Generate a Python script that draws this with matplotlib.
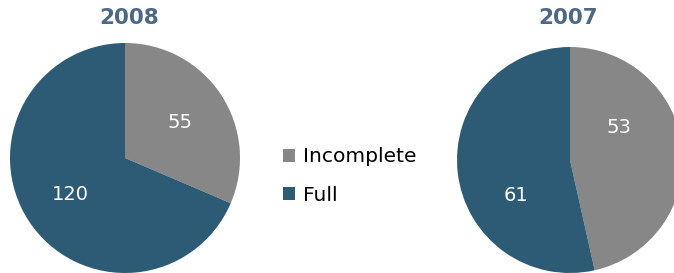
import numpy as np
import matplotlib.pyplot as plt
from matplotlib.patches import Patch

categories = ['Incomplete', 'Full']
years = ['2008', '2007']
values_2008 = [55, 120]
values_2007 = [53, 61]

colors = ['#878787', '#2d5b75']
title_color = '#4d6887'

fig = plt.figure(figsize=(6.74, 2.73), dpi=100)
W, H = 674, 273


def pie_axes(cx, cy, r):
    # pixel centre/radius (top-left origin) -> figure axes
    return fig.add_axes([(cx - r) / W, (H - cy - r) / H, 2 * r / W, 2 * r / H])


def draw_pie(ax, vals, title, cx, label_r):
    ax.pie(vals, colors=colors, startangle=90, counterclock=False,
           radius=1, wedgeprops=dict(linewidth=0))
    ax.set_xlim(-1, 1)
    ax.set_ylim(-1, 1)
    ax.set_aspect('equal')
    ax.axis('off')
    for v, ang, r in zip(vals, [33, -146.5], label_r):
        a = np.radians(ang)
        ax.text(r * np.cos(a), r * np.sin(a), str(v), color='white',
                fontsize=14, ha='center', va='center')
    fig.text(cx / W, 1 - 18 / H, title, color=title_color, fontsize=15.5,
             fontweight='bold', ha='center', va='center')


ax1 = pie_axes(125, 158, 115)
draw_pie(ax1, values_2008, years[0], 129, [0.57, 0.57])

ax2 = pie_axes(570, 160, 113)
draw_pie(ax2, values_2007, years[1], 568, [0.52, 0.57])

handles = [Patch(facecolor=c, edgecolor='none') for c in colors]
fig.legend(handles, categories, loc='center left', bbox_to_anchor=(273 / W, 1 - 176 / H),
           frameon=False, fontsize=14.6, handlelength=0.6, handleheight=0.6,
           handletextpad=0.4, labelspacing=0.95, borderpad=0)

fig.savefig('out.png', dpi=100)
